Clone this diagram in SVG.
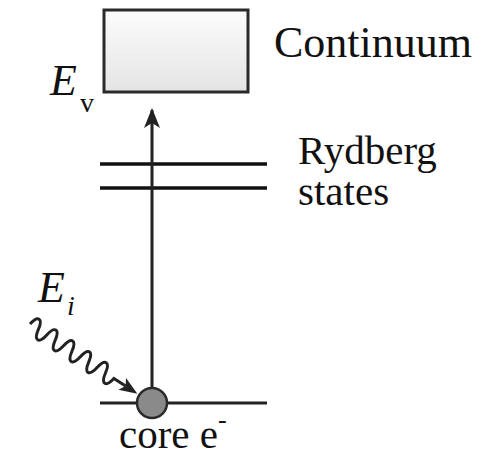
<svg xmlns="http://www.w3.org/2000/svg" width="488" height="457" viewBox="0 0 488 457">
<style>
text{font-family:"Liberation Serif","Tinos","Noto Serif","DejaVu Serif","FreeSerif","Times New Roman",Times,serif;fill:#111}
.lvl{stroke:#111;stroke-width:3.5;fill:none}
.ln{stroke:#222;stroke-width:3;fill:none}
</style>
<defs>
<linearGradient id="g" x1="0" y1="0" x2="0" y2="1">
<stop offset="0" stop-color="#fcfcfc"/>
<stop offset="1" stop-color="#e4e4e4"/>
</linearGradient>
<marker id="ah" viewBox="0 0 20 16" refX="18" refY="8" markerWidth="20" markerHeight="16" markerUnits="userSpaceOnUse" orient="auto">
<path d="M20,8 L0,0 L5,8 L0,16 Z" fill="#222"/>
</marker>
</defs>
<rect width="488" height="457" fill="#fff"/>
<g id="continuum">
<rect x="104" y="10" width="144" height="82" fill="url(#g)" stroke="#2a2a2a" stroke-width="3"/>
<text x="274" y="57" font-size="44">Continuum</text>
</g>
<g id="ev-label">
<text x="50" y="95" font-size="44" font-style="italic">E</text>
<text x="80" y="112" font-size="28">v</text>
</g>
<g id="rydberg">
<line class="lvl" x1="100" y1="164" x2="267" y2="164"/>
<line class="lvl" x1="100" y1="188" x2="267" y2="188"/>
<text x="298" y="164" font-size="41">Rydberg</text>
<text x="298" y="205" font-size="41">states</text>
</g>
<g id="core">
<line class="ln" x1="100" y1="403" x2="267" y2="403"/>
<text x="119" y="448" font-size="41">core e<tspan font-size="26" dy="-20">-</tspan></text>
</g>
<g id="ei-label">
<text x="38" y="302" font-size="44" font-style="italic">E</text>
<text x="67" y="315" font-size="28" font-style="italic">i</text>
</g>
<g id="connectors">
<line class="ln" x1="152" y1="390" x2="152" y2="110" marker-end="url(#ah)"/>
<g transform="translate(30,324) rotate(33)">
<path class="ln" stroke-width="3.3" d="M0,0 c2,-12 8,-12 10,0 s8,12 10,0 s8,-12 10,0 s8,12 10,0 s8,-12 10,0 s8,12 10,0 s8,-12 10,0 s8,12 10,0 s8,-12 10,0 s8,12 10,0 L114,0"/>
<path d="M128,0 L110,-7 L114,0 L110,7 Z" fill="#222"/>
</g>
</g>
<g id="core-electron">
<circle cx="152" cy="403" r="15" fill="#8a8a8a" stroke="#2a2a2a" stroke-width="2.5"/>
</g>
</svg>
